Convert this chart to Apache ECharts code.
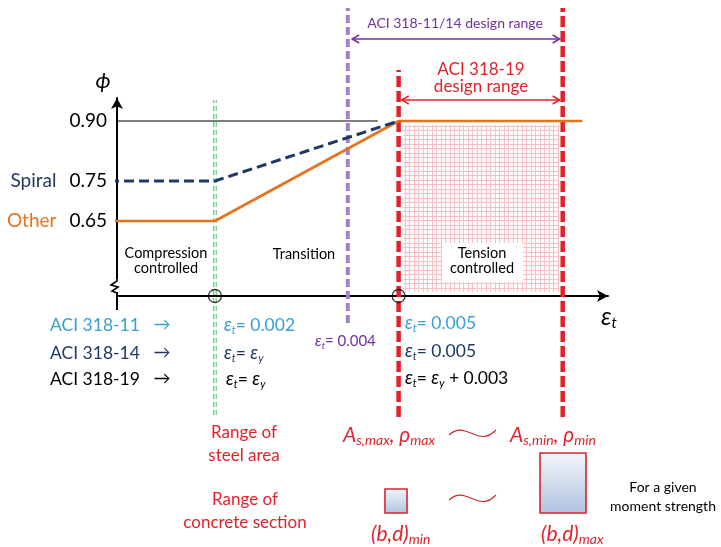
<!DOCTYPE html>
<html><head><meta charset="utf-8">
<script src="https://cdn.jsdelivr.net/npm/echarts@6/dist/echarts.min.js"></script>
<style>html,body{margin:0;padding:0;background:#fff}#c{width:721px;height:547px}</style>
</head><body><div id="c"></div>
<script>
// ---------------- data ----------------
const phiTicks = [0.65, 0.75, 0.90];
const phiTickNames = ['Other', 'Spiral', ''];
const spiralStrain = [0.00027, 0.002, 0.005];
const spiralPhi = [0.75, 0.75, 0.90];
const otherStrain = [0.00027, 0.002, 0.005, 0.008];
const otherPhi = [0.65, 0.65, 0.90, 0.90];
const refStrain = [0.00027, 0.00466];
const refPhi = [0.90, 0.90];
// vertical limit lines: compression limit, ACI 318-11/14 limit, ACI 318-19 limit, min steel limit
const limitStrain = [0.002, 0.00417, 0.005, 0.00768];
const limitTop = [0.9525, 1.1825, 1.0275, 1.1825];
const limitBottom = [0.165, 0.395, 0.16, 0.16];
const range1114Strain = [0.00424, 0.00763];
const range1114Phi = 1.105;
const range19Strain = [0.00505, 0.00763];
const range19Phi = 0.9525;
const tensionZoneStrain = [0.00507, 0.00762];
const tensionZonePhi = [0.4725, 0.89];
const markedStrain = [0.002, 0.005];
const axisExtPhi = 0.4275;
const xMin = 0.0004, xMax = 0.00842, yMin = 0.4625, yMax = 0.9575;

// ---------------- styles ----------------
const F = 'Lato, "Noto Sans", sans-serif';
const ORANGE = '#e8731f', NAVY = '#1f3864', LBLUE = '#36a0d4', PURPLE = '#7030a0',
      PURPLE_L = '#a47fcc', RED = '#e3212b', GREEN = '#6fd08f', DRED = '#c8282e';
const limitStyles = [
  {color: GREEN, width: 4, type: [5, 3]},
  {color: PURPLE_L, width: 4, type: [8, 4]},
  {color: RED, width: 4.5, type: [11, 4]},
  {color: RED, width: 4.5, type: [11, 4]}
];

// hatch pattern
const pc = document.createElement('canvas');
pc.width = 9; pc.height = 9;
const g = pc.getContext('2d');
g.fillStyle = '#fffbfb'; g.fillRect(0, 0, 9, 9);
g.fillStyle = '#f6c0c6';
g.fillRect(0, 0, 9, 1); g.fillRect(0, 4, 9, 1);
g.fillRect(0, 0, 1, 9); g.fillRect(4, 0, 1, 9);

const zip = (a, b) => a.map((v, i) => [v, b[i]]);
const chart = echarts.init(document.getElementById('c'), null, {renderer: 'canvas'});

const series = [];
limitStrain.forEach((x, i) => {
  series.push({
    type: 'line', clip: false, symbol: 'none', silent: true, z: 3,
    data: [[x, limitBottom[i]], [x, limitTop[i]]],
    lineStyle: limitStyles[i]
  });
});
series.push({
  type: 'line', clip: false, symbol: 'none', silent: true, z: 3,
  data: [[limitStrain[0], limitBottom[0]], [limitStrain[0], limitTop[0]]],
  lineStyle: {color: '#ffffff', width: 1.3, type: [5, 3]}
});
series.push({
  type: 'line', clip: false, symbol: 'none', silent: true, z: 4,
  data: zip(refStrain, refPhi), lineStyle: {color: '#000', width: 1.2}
});
series.push({
  type: 'line', name: 'Other', clip: false, symbol: 'none', silent: true, z: 5,
  data: zip(otherStrain, otherPhi), lineStyle: {color: ORANGE, width: 2.6},
  markArea: {
    silent: true, z: 1,
    itemStyle: {color: {image: pc, repeat: 'repeat'}, borderWidth: 0},
    data: [[{coord: [tensionZoneStrain[0], tensionZonePhi[1]]}, {coord: [tensionZoneStrain[1], tensionZonePhi[0]]}]]
  }
});
series.push({
  type: 'line', name: 'Spiral', clip: false, symbol: 'none', silent: true, z: 6,
  data: zip(spiralStrain, spiralPhi), lineStyle: {color: NAVY, width: 3, type: [10, 5]}
});
series.push({
  type: 'line', clip: false, symbol: 'none', silent: true, z: 6,
  data: [[xMin, yMin], [xMin, axisExtPhi]], lineStyle: {color: '#000', width: 2}
});
series.push({
  type: 'scatter', clip: false, silent: true, z: 10, symbol: 'circle', symbolSize: 13,
  data: markedStrain.map(x => [x, yMin]),
  itemStyle: {color: 'rgba(0,0,0,0)', borderColor: '#000', borderWidth: 1.3}
});

const option = {
  animation: false,
  backgroundColor: '#fff',
  grid: {left: 117, right: 113, top: 98, bottom: 251, containLabel: false, outerBoundsMode: 'none'},
  xAxis: {
    type: 'value', min: xMin, max: xMax,
    axisLine: {show: true, symbol: ['none', 'arrow'], symbolSize: [9, 11], lineStyle: {color: '#000', width: 2}},
    axisTick: {show: false}, axisLabel: {show: false}, splitLine: {show: false}
  },
  yAxis: {
    type: 'value', min: yMin, max: yMax,
    axisLine: {show: true, symbol: ['none', 'arrow'], symbolSize: [9, 11], lineStyle: {color: '#000', width: 2}},
    axisTick: {show: false}, splitLine: {show: false},
    axisLabel: {
      show: true, customValues: phiTicks, margin: 10, fontFamily: F, fontSize: 19, color: '#000',
      formatter: function (v) {
        const i = phiTicks.findIndex(t => Math.abs(t - v) < 1e-6);
        const name = i >= 0 ? phiTickNames[i] : '';
        const num = '{n|' + v.toFixed(2) + '}';
        if (name === 'Spiral') return '{sp|Spiral}' + num;
        if (name === 'Other') return '{ot|Other}' + num;
        return num;
      },
      rich: {
        n: {fontFamily: F, fontSize: 19, color: '#000'},
        sp: {fontFamily: F, fontSize: 19, color: NAVY, padding: [0, 13, 0, 0]},
        ot: {fontFamily: F, fontSize: 19, color: ORANGE, padding: [0, 13, 0, 0]}
      }
    }
  },
  series: series
};
chart.setOption(option);

// ---------------- annotations ----------------
const px = (x, y) => chart.convertToPixel({gridIndex: 0}, [x, y]);
const els = [];
function T(x, y, text, o) {
  o = o || {};
  els.push({type: 'text', x: x, y: y, z: 60, silent: true, style: {
    text: text, fill: o.color || '#000', fontFamily: F, fontSize: o.size || 14,
    fontStyle: o.italic ? 'italic' : 'normal', lineHeight: o.lh || undefined,
    align: o.align || 'center', verticalAlign: 'middle', rich: o.rich
  }});
}
function richEps(color, size) {
  const sub = Math.round(size * 0.62);
  return {
    e: {fill: color, fontFamily: F, fontSize: size + 1, fontStyle: 'italic', lineHeight: size + 4},
    s: {fill: color, fontFamily: F, fontSize: sub, fontStyle: 'italic', lineHeight: sub, verticalAlign: 'bottom'},
    n: {fill: color, fontFamily: F, fontSize: size, lineHeight: size + 4}
  };
}
function epsText(x, y, str, color, size) {
  T(x, y, str, {color: color, size: size, align: 'left', rich: richEps(color, size)});
}

function rangeArrow(r, phi, color, w) {
  const a = px(r[0], phi), b = px(r[1], phi);
  els.push({type: 'line', z: 60, silent: true, shape: {x1: a[0], y1: a[1], x2: b[0], y2: b[1]}, style: {stroke: color, lineWidth: w}});
  els.push({type: 'polyline', z: 60, silent: true, shape: {points: [[a[0] + 7, a[1] - 4], [a[0], a[1]], [a[0] + 7, a[1] + 4]]}, style: {stroke: color, lineWidth: w, fill: null}});
  els.push({type: 'polyline', z: 60, silent: true, shape: {points: [[b[0] - 7, b[1] - 4], [b[0], b[1]], [b[0] - 7, b[1] + 4]]}, style: {stroke: color, lineWidth: w, fill: null}});
}
rangeArrow(range1114Strain, range1114Phi, PURPLE, 1.5);
rangeArrow(range19Strain, range19Phi, RED, 1.5);

T(455, 23, 'ACI 318-11/14 design range', {color: PURPLE, size: 14});
T(481, 78, 'ACI 318-19\ndesign range', {color: RED, size: 17, lh: 17});

T(103, 81, 'ϕ', {size: 22, italic: true});
epsText(601, 317, '{e|ε}{s|t}', '#000', 24);

T(166, 261, 'Compression\ncontrolled', {size: 14.5, lh: 15});
T(304, 254, 'Transition', {size: 14.5});
els.push({type: 'rect', z: 55, silent: true, shape: {x: 442, y: 243, width: 81, height: 39}, style: {fill: '#fff'}});
T(482, 261, 'Tension\ncontrolled', {size: 14.5, lh: 15});

const o0 = px(xMin, yMin);
els.push({type: 'rect', z: 58, silent: true, shape: {x: o0[0] - 4, y: o0[1] - 17, width: 8, height: 13}, style: {fill: '#fff'}});
els.push({type: 'polyline', z: 59, silent: true, shape: {points: [
  [o0[0], o0[1] - 18], [o0[0], o0[1] - 15], [o0[0] - 6, o0[1] - 11], [o0[0] + 1, o0[1] - 9],
  [o0[0] - 5, o0[1] - 5], [o0[0], o0[1] - 3], [o0[0], o0[1]]]}, style: {stroke: '#000', lineWidth: 1.6, fill: null}});

const rowY = [325, 353, 379];
const rowColors = [LBLUE, NAVY, '#000'];
const rowNames = ['ACI 318-11', 'ACI 318-14', 'ACI 318-19'];
rowNames.forEach((n, i) => {
  T(50, rowY[i], n, {color: rowColors[i], size: 17.5, align: 'left'});
  T(162, rowY[i], '→', {color: rowColors[i], size: 17});
});
epsText(224, 325, '{e|ε}{s|t}{n|= 0.002}', LBLUE, 17.5);
epsText(224, 353, '{e|ε}{s|t}{n|= }{e|ε}{s|y}', NAVY, 17.5);
epsText(226, 379, '{e|ε}{s|t}{n|= }{e|ε}{s|y}', '#000', 17.5);
epsText(315, 341, '{e|ε}{s|t}{n|= 0.004}', PURPLE, 15);
epsText(405, 323, '{e|ε}{s|t}{n|= 0.005}', LBLUE, 17.5);
epsText(405, 351, '{e|ε}{s|t}{n|= 0.005}', NAVY, 17.5);
epsText(405, 378, '{e|ε}{s|t}{n|= }{e|ε}{s|y}{n| + 0.003}', '#000', 17.5);

T(244, 444, 'Range of\nsteel area', {color: RED, size: 17, lh: 23});
T(245, 511, 'Range of\nconcrete section', {color: RED, size: 17, lh: 23});
const richM = {
  m: {fill: RED, fontFamily: F, fontSize: 21, fontStyle: 'italic', lineHeight: 24},
  s: {fill: RED, fontFamily: F, fontSize: 14, fontStyle: 'italic', lineHeight: 13, verticalAlign: 'bottom'}
};
T(343, 435, '{m|A}{s|s,max}{m|, ρ}{s|max}', {align: 'left', rich: richM});
T(510, 435, '{m|A}{s|s,min}{m|, ρ}{s|min}', {align: 'left', rich: richM});
T(371, 534, '{m|(b,d)}{s|min}', {align: 'left', rich: richM});
T(541, 534, '{m|(b,d)}{s|max}', {align: 'left', rich: richM});
function tilde(x, y) {
  els.push({type: 'bezierCurve', z: 60, silent: true, shape: {x1: x, y1: y + 2, cpx1: x + 17, cpy1: y - 14, cpx2: x + 29, cpy2: y + 16, x2: x + 47, y2: y - 3},
    style: {stroke: DRED, lineWidth: 1.1, fill: null}});
}
tilde(449, 433);
tilde(449, 498);
const grad = () => new echarts.graphic.LinearGradient(0, 0, 0, 1, [{offset: 0, color: '#f4f7fc'}, {offset: 1, color: '#afc2df'}]);
els.push({type: 'rect', z: 60, silent: true, shape: {x: 385, y: 489, width: 22, height: 24}, style: {fill: grad(), stroke: '#d2262c', lineWidth: 1.6}});
els.push({type: 'rect', z: 60, silent: true, shape: {x: 540, y: 453, width: 46, height: 60}, style: {fill: grad(), stroke: '#d2262c', lineWidth: 1.6}});
T(663, 497, 'For a given\nmoment strength', {size: 14, lh: 19});

chart.setOption({graphic: {elements: els}});
</script></body></html>
